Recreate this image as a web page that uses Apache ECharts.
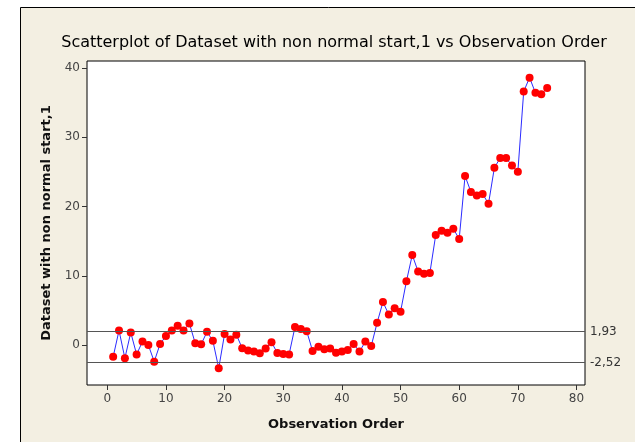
<!DOCTYPE html>
<html>
<head>
<meta charset="utf-8">
<script src="https://cdn.jsdelivr.net/npm/echarts@6/dist/echarts.min.js"></script>
<style>
  html, body { margin: 0; padding: 0; background: #fff; }
  #chart { width: 635px; height: 442px; }
</style>
</head>
<body>
<div id="chart"></div>
<script>
// observation values, order 1..75
var values = [
  -1.7, 2.1, -1.9, 1.8, -1.35, 0.5, 0.0, -2.4, 0.15, 1.3,
  2.1, 2.8, 2.1, 3.1, 0.25, 0.1, 1.9, 0.6, -3.35, 1.6,
  0.8, 1.5, -0.45, -0.8, -0.95, -1.2, -0.5, 0.4, -1.15, -1.3,
  -1.35, 2.6, 2.3, 2.0, -0.85, -0.25, -0.6, -0.5, -1.1, -0.95,
  -0.7, 0.15, -0.95, 0.5, -0.15, 3.2, 6.2, 4.4, 5.3, 4.8,
  9.2, 13.0, 10.6, 10.3, 10.4, 15.9, 16.5, 16.2, 16.8, 15.3,
  24.4, 22.1, 21.6, 21.8, 20.4, 25.6, 27.0, 27.0, 25.9, 25.0,
  36.6, 38.6, 36.4, 36.2, 37.1
]
var xTicks = [0, 10, 20, 30, 40, 50, 60, 70, 80]
var yTicks = [0, 10, 20, 30, 40]
var refLines = [1.93, -2.52]
var refLabels = ['1,93', '-2,52']

var chart = echarts.init(document.getElementById('chart'))

var points = values.map(function(v, i) { return [i + 1, v] })

chart.setOption({
  backgroundColor: '#fff',
  animation: false,
  graphic: [{
    type: 'rect',
    z: -10,
    silent: true,
    shape: { x: 20.5, y: 7.5, width: 700, height: 500 },
    style: { fill: '#f3efe2', stroke: '#000', lineWidth: 1 }
  }],
  title: {
    text: 'Scatterplot of Dataset with non normal start,1 vs Observation Order',
    left: 329,
    textAlign: 'center',
    top: 30,
    textStyle: { fontFamily: 'DejaVu Sans', fontSize: 16, fontWeight: 'normal', color: '#000' }
  },
  grid: {
    left: 87, right: 50, top: 61, bottom: 57,
    show: true,
    backgroundColor: '#fff',
    borderColor: '#000',
    borderWidth: 1
  },
  xAxis: {
    type: 'value',
    min: -3.46,
    max: 81.45,
    name: 'Observation Order',
    nameLocation: 'middle',
    nameGap: 33,
    nameTextStyle: { fontFamily: 'DejaVu Sans', fontSize: 13, fontWeight: 'bold', color: '#111' },
    axisLine: { show: false, onZero: false },
    splitLine: { show: false },
    axisTick: { show: true, length: 5, lineStyle: { color: '#333', width: 1 }, customValues: xTicks },
    axisLabel: { customValues: xTicks, margin: 8, fontFamily: 'DejaVu Sans', fontSize: 12, color: '#444' }
  },
  yAxis: {
    type: 'value',
    min: -5.77,
    max: 41.0,
    name: 'Dataset with non normal start,1',
    nameLocation: 'middle',
    nameGap: 34,
    nameTextStyle: { fontFamily: 'DejaVu Sans', fontSize: 13, fontWeight: 'bold', color: '#111' },
    axisLine: { show: false, onZero: false },
    splitLine: { show: false },
    axisTick: { show: true, length: 5, lineStyle: { color: '#333', width: 1 }, customValues: yTicks },
    axisLabel: { customValues: yTicks, margin: 7, fontFamily: 'DejaVu Sans', fontSize: 12, color: '#444' }
  },
  series: [{
    type: 'line',
    data: points,
    symbol: 'circle',
    symbolSize: 8,
    itemStyle: { color: '#ff0000' },
    lineStyle: { color: '#2b2bff', width: 1 },
    markLine: {
      silent: true,
      symbol: 'none',
      lineStyle: { color: '#555', type: 'solid', width: 1 },
      label: {
        position: 'end',
        distance: 5,
        fontFamily: 'DejaVu Sans',
        fontSize: 12,
        color: '#333',
        formatter: function(p) { return refLabels[p.dataIndex] }
      },
      data: refLines.map(function(v) { return { yAxis: v } })
    }
  }]
})
</script>
</body>
</html>
